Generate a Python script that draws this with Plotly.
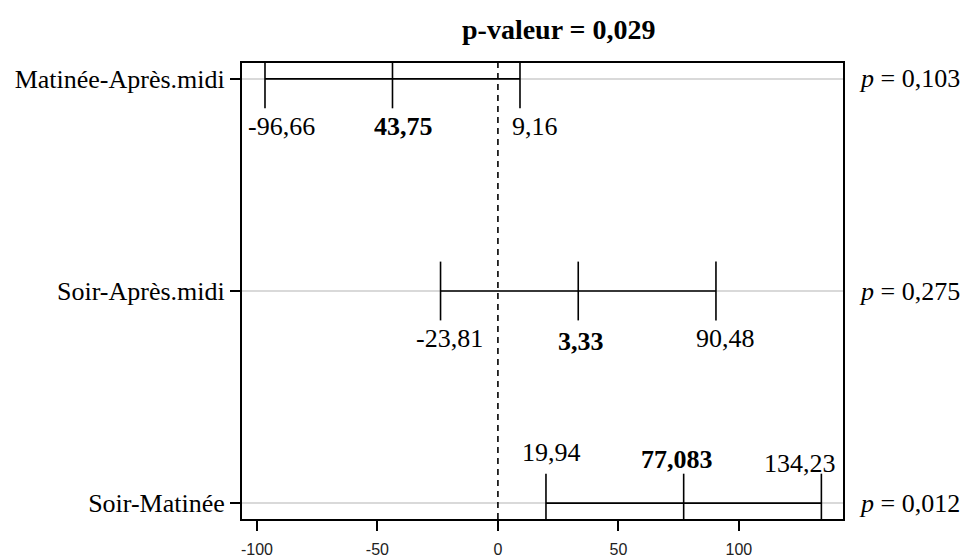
import plotly.graph_objects as go

# Pairwise comparisons: difference estimates with 95% confidence bounds
comparisons = ["Matinée-Après.midi", "Soir-Après.midi", "Soir-Matinée"]
lower = [-96.66, -23.81, 19.94]
center = [-43.75, 33.33, 77.083]
upper = [9.16, 90.48, 134.23]
lower_labels = ["-96,66", "-23,81", "19,94"]
center_labels = ["43,75", "3,33", "77,083"]
upper_labels = ["9,16", "90,48", "134,23"]
p_values = ["0,103", "0,275", "0,012"]
global_p = "0,029"
x_ticks = [-100, -50, 0, 50, 100]
x_tick_labels = ["-100", "-50", "0", "50", "100"]

# vertical rows, first comparison on top
rows = [3, 2, 1]

# label pixel offsets (dx, dy) for lower / center / upper values of each row
lower_off = [(17, -48), (9, -47), (6, 51)]
center_off = [(11, -48), (3, -50), (-7, 44)]
upper_off = [(15, -48), (10, -47), (-21, 40)]

SERIF = "Liberation Serif, Times New Roman, serif"
BLACK = "#000000"
LABEL_SIZE = 26

fig = go.Figure()

# horizontal interval segments
for lo, hi, r in zip(lower, upper, rows):
    fig.add_trace(go.Scatter(
        x=[lo, hi], y=[r, r], mode="lines",
        line=dict(color=BLACK, width=1.6),
        hoverinfo="skip", showlegend=False,
    ))

# vertical ticks at bounds and estimate
tick_x, tick_y = [], []
for lo, c, hi, r in zip(lower, center, upper, rows):
    tick_x += [lo, c, hi]
    tick_y += [r, r, r]
fig.add_trace(go.Scatter(
    x=tick_x, y=tick_y, mode="markers",
    marker=dict(symbol="line-ns", size=42, color=BLACK,
                line=dict(color=BLACK, width=1.6)),
    cliponaxis=True, hoverinfo="skip", showlegend=False,
))

# reference line at zero difference
fig.add_shape(type="line", xref="x", yref="y domain", x0=0, x1=0, y0=0, y1=1,
              line=dict(color=BLACK, width=1.6, dash="6px,5px"), layer="above")

annotations = []
for i, r in enumerate(rows):
    for val, txt, off, bold in ((lower[i], lower_labels[i], lower_off[i], False),
                                (center[i], center_labels[i], center_off[i], True),
                                (upper[i], upper_labels[i], upper_off[i], False)):
        annotations.append(dict(
            x=val, y=r, xref="x", yref="y",
            text=f"<b>{txt}</b>" if bold else txt,
            showarrow=False, xshift=off[0], yshift=off[1],
            font=dict(family=SERIF, size=LABEL_SIZE, color=BLACK),
        ))
    annotations.append(dict(
        x=1, y=r, xref="x domain", yref="y",
        text=f"<i>p</i> = {p_values[i]}", showarrow=False,
        xanchor="left", xshift=14,
        font=dict(family=SERIF, size=LABEL_SIZE, color=BLACK),
    ))

annotations.append(dict(
    x=0.5275, y=1.074, xref="paper", yref="paper",
    text=f"<b>p-valeur = {global_p}</b>", showarrow=False,
    xanchor="center", yanchor="middle",
    font=dict(family=SERIF, size=28, color=BLACK),
))

fig.update_layout(
    width=963, height=558,
    margin=dict(l=242, r=120, t=63, b=39),
    paper_bgcolor="white", plot_bgcolor="white",
    annotations=annotations,
    xaxis=dict(
        range=[-106.2, 143.2], tickvals=x_ticks, ticktext=x_tick_labels,
        ticks="outside", ticklen=10, tickwidth=1.5, tickcolor=BLACK,
        showgrid=False, zeroline=False,
        showline=True, linecolor=BLACK, linewidth=2, mirror=True,
        ticklabelstandoff=5, automargin=False,
        tickfont=dict(family="Liberation Sans, Arial, sans-serif", size=16, color="#222222"),
    ),
    yaxis=dict(
        range=[0.925, 3.075], tickvals=rows, ticktext=comparisons,
        ticks="outside", ticklen=10, tickwidth=1.5, tickcolor=BLACK,
        showgrid=True, gridcolor="#d9d9d9", gridwidth=1.5, zeroline=False,
        showline=True, linecolor=BLACK, linewidth=2, mirror=True,
        automargin=False,
        tickfont=dict(family=SERIF, size=LABEL_SIZE, color=BLACK),
    ),
)

fig.write_html("out.html")
